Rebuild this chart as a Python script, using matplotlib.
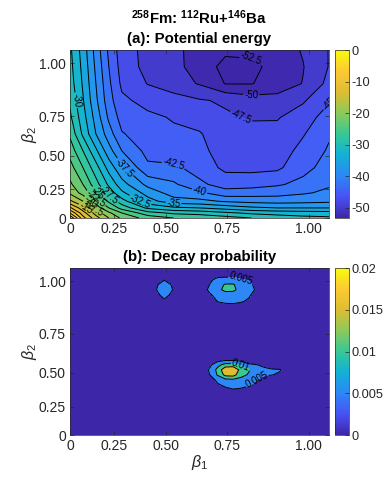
import numpy as np
import matplotlib
matplotlib.use("Agg")
import matplotlib.pyplot as plt
from matplotlib.colors import LinearSegmentedColormap, Normalize
import matplotlib.cm as cm

plt.rcParams['font.family'] = ['Liberation Sans', 'DejaVu Sans']
plt.rcParams['mathtext.fontset'] = 'custom'
plt.rcParams['mathtext.rm'] = 'Liberation Sans'
plt.rcParams['mathtext.it'] = 'Liberation Sans:italic'
plt.rcParams['mathtext.bf'] = 'Liberation Sans:bold'
plt.rcParams['axes.unicode_minus'] = False

# axis positions (axes fraction) of the beta tick labels
tick_pos = [0, 0.17, 0.372, 0.606, 0.921]
tick_labels = ['0', '0.25', '0.50', '0.75', '1.00']

# (a) potential energy grid
u_pe = [0, .05, .1, .15, .2, .3, .4, .5, .6, .7, .8, .9, 1.0]
v_pe = [0, .03, .06, .1, .15, .2, .3, .4, .5, .6, .7, .8, .9, 1.0]
pe = [
    [0, -9, -14, -17.5, -20.5, -23.5, -25, -25.5, -26.5, -27.5, -28.5, -29.2, -29.5],
    [-5, -11.5, -16, -19.5, -22.5, -26.5, -28, -28.5, -29.5, -30.5, -31, -31.3, -31.5],
    [-9.5, -14, -18.5, -22.5, -26, -30.5, -32, -32.5, -33.5, -34.5, -35, -35, -35],
    [-14.5, -17.5, -21.5, -25.5, -29, -34, -36.5, -36.8, -37.8, -38.3, -38.5, -38.3, -38],
    [-18, -21, -24.5, -28.5, -32, -36, -38.6, -39.6, -41.6, -41.3, -41, -40.3, -39.5],
    [-19.5, -22.5, -26.5, -30.5, -34, -38.2, -39.6, -42, -43.5, -43.4, -42.8, -41.8, -40.3],
    [-21.5, -25, -29, -33.5, -37, -42, -42, -43.5, -45.6, -45.7, -45.5, -43.3, -41.5],
    [-23.5, -27.5, -32, -36.5, -40, -43.3, -44.2, -44.3, -46.2, -46.5, -46.3, -44.2, -42.2],
    [-25.5, -30.5, -35, -38.8, -42.3, -43.8, -44.6, -44.8, -46.5, -46.8, -46.7, -45.2, -42.8],
    [-27, -31.5, -36, -40.5, -43.5, -44.5, -45.2, -46, -47.2, -47.7, -47.7, -46.3, -43.8],
    [-28, -32.3, -37, -41.5, -44.5, -45.8, -46.5, -47.3, -47.8, -48.8, -49, -47.8, -45.3],
    [-28.8, -32.8, -37.5, -42, -45.5, -47.6, -48.8, -50.2, -52.6, -52.6, -51.5, -49.9, -46.8],
    [-29.2, -33.2, -38, -42.5, -46, -48.3, -49.3, -51, -53.3, -53, -51.8, -50.1, -47.4],
    [-29.5, -33.6, -38.5, -43, -46.3, -48.3, -49.5, -50.8, -52, -52, -51.3, -49.8, -47.4],
]
pe_levels = [-55, -52.5, -50, -47.5, -45, -42.5, -40, -37.5, -35, -32.5, -30, -27.5, -25,
             -22.5, -20, -17.5, -15, -12.5, -10, -7.5, -5, -2.5, 0.01]
pe_lines = pe_levels[1:-1]
pe_clim = (-53.3, 0)
pe_cticks = [-50, -40, -30, -20, -10, 0]

# (b) decay probability grid
u_dp = [0, .31, .34, .364, .39, .42, .51, .54, .57, .60, .63, .66, .69, .72, .75, .78, .81, .84, 1.0]
v_dp = [0, .24, .27, .30, .33, .36, .39, .42, .45, .48, .72, .76, .80, .84, .87, .90, .93, .96, 1.0]
dp = [
    [0, 0, 0, 0, 0, 0, 0, 0, 0, 0, 0, 0, 0, 0, 0, 0, 0, 0, 0],
    [0, 0, 0, 0, 0, 0, 0, 0, 0, 0, 0, 0, 0, 0, 0, 0, 0, 0, 0],
    [0, 0, 0, 0, 0, 0, 0, 0, 0, .004, .0048, .0045, .003, 0, 0, 0, 0, 0, 0],
    [0, 0, 0, 0, 0, 0, 0, 0, .0045, .0058, .006, .006, .0055, .004, 0, 0, 0, 0, 0],
    [0, 0, 0, 0, 0, 0, 0, .003, .006, .0085, .009, .0085, .007, .005, .003, 0, 0, 0, 0],
    [0, 0, 0, 0, 0, 0, 0, .005, .0105, .0165, .017, .0115, .0095, .006, .0055, .0052, .004, 0, 0],
    [0, 0, 0, 0, 0, 0, .002, .0058, .0115, .019, .02, .013, .0105, .0065, .006, .006, .0055, .003, 0],
    [0, 0, 0, 0, 0, 0, 0, .004, .0085, .012, .012, .0095, .0065, .0052, .004, 0, 0, 0, 0],
    [0, 0, 0, 0, 0, 0, 0, 0, .003, .004, .004, .0035, 0, 0, 0, 0, 0, 0, 0],
    [0, 0, 0, 0, 0, 0, 0, 0, 0, 0, 0, 0, 0, 0, 0, 0, 0, 0, 0],
    [0, 0, 0, 0, 0, 0, 0, 0, 0, 0, 0, 0, 0, 0, 0, 0, 0, 0, 0],
    [0, 0, 0, 0, 0, 0, 0, 0, .002, .003, .003, .002, 0, 0, 0, 0, 0, 0, 0],
    [0, 0, 0, .0042, 0, 0, 0, 0, .0052, .0058, .006, .0055, .0042, 0, 0, 0, 0, 0, 0],
    [0, 0, .0045, .0065, .0045, 0, 0, .0045, .0065, .0075, .0075, .007, .0058, .003, 0, 0, 0, 0, 0],
    [0, .003, .0055, .0075, .0055, .003, .003, .006, .0085, .0115, .0112, .008, .0065, .0045, 0, 0, 0, 0, 0],
    [0, 0, .005, .0068, .005, 0, 0, .0052, .008, .0105, .0105, .0075, .006, .004, 0, 0, 0, 0, 0],
    [0, 0, 0, .0048, 0, 0, 0, .004, .0065, .007, .0068, .006, .0045, 0, 0, 0, 0, 0, 0],
    [0, 0, 0, 0, 0, 0, 0, 0, .003, .003, .003, 0, 0, 0, 0, 0, 0, 0, 0],
    [0, 0, 0, 0, 0, 0, 0, 0, 0, 0, 0, 0, 0, 0, 0, 0, 0, 0, 0],
]
dp_levels = [-0.001, 0.005, 0.01, 0.015, 0.021]
dp_lines = [0.005, 0.01, 0.015]
dp_clim = (0, 0.02)
dp_cticks = [0, 0.005, 0.01, 0.015, 0.02]

parula = LinearSegmentedColormap.from_list('parula', [
    (0.2422, 0.1504, 0.6603), (0.2810, 0.3228, 0.9571), (0.1786, 0.5289, 0.9682),
    (0.0689, 0.6948, 0.8394), (0.2161, 0.7843, 0.5923), (0.5500, 0.7900, 0.3500),
    (0.8700, 0.7400, 0.2000), (0.9900, 0.7900, 0.2000), (0.9763, 0.9831, 0.0538)])

GRAY = (0.15, 0.15, 0.15)
FS = 10


def panel(ax, cax, u, v, z, levels, lines, clim, cticks, title):
    norm = Normalize(*clim)
    # MATLAB style: band coloured by its lower level
    colors = [parula(norm(min(max(l, clim[0]), clim[1]))) for l in levels[:-1]]
    ax.contourf(u, v, z, levels=levels, colors=colors)
    cs = ax.contour(u, v, z, levels=lines, colors='k', linewidths=0.7,
                    linestyles='solid')
    ax.clabel(cs, fmt='%g', fontsize=7, inline=True, inline_spacing=1)
    ax.set_xlim(0, 1)
    ax.set_ylim(0, 1)
    ax.set_xticks(tick_pos)
    ax.set_xticklabels(tick_labels)
    ax.set_yticks(tick_pos)
    ax.set_yticklabels(tick_labels)
    ax.tick_params(direction='in', top=True, right=True, length=3, width=0.5,
                   labelsize=FS, colors=GRAY, labelcolor=GRAY, pad=3)
    for s in ax.spines.values():
        s.set_color(GRAY)
        s.set_linewidth(0.5)
    ax.set_ylabel(r'$\beta_2$', fontsize=FS + 1.5, color=GRAY, labelpad=0)
    ax.set_title(title, fontsize=FS + 0.8, fontweight='bold', pad=5)
    cb = plt.colorbar(cm.ScalarMappable(norm=norm, cmap=parula), cax=cax, ticks=cticks)
    cb.ax.tick_params(direction='in', length=3, width=0.5, labelsize=FS - 0.8,
                      colors=GRAY, labelcolor=GRAY, pad=2)
    cb.outline.set_edgecolor(GRAY)
    cb.outline.set_linewidth(0.5)
    return cb


fig = plt.figure(figsize=(3.85, 4.86), dpi=100)
ax1 = fig.add_axes([70/385, 1-218/486, 259/385, 168/486])
cax1 = fig.add_axes([335/385, 1-218/486, 14/385, 168/486])
ax2 = fig.add_axes([70/385, 1-435/486, 259/385, 167/486])
cax2 = fig.add_axes([335/385, 1-435/486, 14/385, 167/486])

panel(ax1, cax1, u_pe, v_pe, np.array(pe), pe_levels, pe_lines, pe_clim, pe_cticks,
      '(a): Potential energy')
cb2 = panel(ax2, cax2, u_dp, v_dp, np.array(dp), dp_levels, dp_lines, dp_clim, dp_cticks,
            '(b): Decay probability')
cb2.ax.set_yticklabels(['0', '0.005', '0.01', '0.015', '0.02'])
ax2.set_xlabel(r'$\beta_1$', fontsize=FS + 1.5, color=GRAY, labelpad=0)

fig.text(199/385, 1-18/486, r'$^{\mathbf{258}}$Fm: $^{\mathbf{112}}$Ru+$^{\mathbf{146}}$Ba',
         ha='center', va='center', fontsize=FS + 0.8, fontweight='bold')

fig.savefig('out.png', dpi=100)
